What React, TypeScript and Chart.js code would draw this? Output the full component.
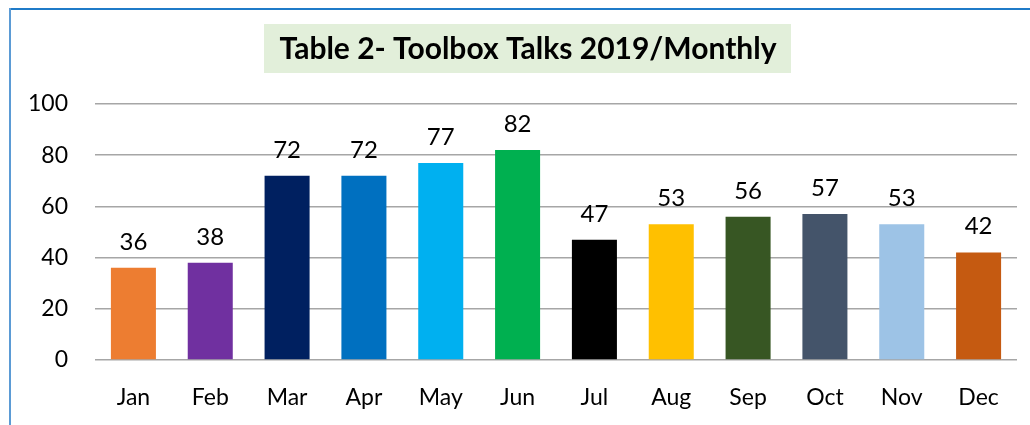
import React, { useEffect, useRef } from "react";
import { Chart, registerables } from "chart.js";

Chart.register(...registerables);

const months = ["Jan", "Feb", "Mar", "Apr", "May", "Jun", "Jul", "Aug", "Sep", "Oct", "Nov", "Dec"];
const talks = [36, 38, 72, 72, 77, 82, 47, 53, 56, 57, 53, 42];
const barColors = [
  "#ED7D31", "#7030A0", "#002060", "#0070C0", "#00B0F0", "#00B050",
  "#000000", "#FFC000", "#375623", "#44546A", "#9DC3E6", "#C55A11",
];
const titleText = "Table 2- Toolbox Talks 2019/Monthly";
const yMin = 0;
const yMax = 100;
const yStep = 20;

const FONT = "Lato";

const titlePlugin = {
  id: "titleBox",
  afterDraw(chart: any) {
    const ctx = chart.ctx;
    ctx.save();
    ctx.fillStyle = "#E2EFDA";
    ctx.fillRect(264, 24, 527, 49);
    ctx.font = `bold 30px ${FONT}`;
    ctx.fillStyle = "#000000";
    ctx.textAlign = "center";
    ctx.textBaseline = "middle";
    ctx.fillText(titleText, 528, 49);
    ctx.restore();
  },
};

const valueLabels = {
  id: "valueLabels",
  afterDatasetsDraw(chart: any) {
    const ctx = chart.ctx;
    const meta = chart.getDatasetMeta(0);
    ctx.save();
    ctx.font = `24px ${FONT}`;
    ctx.fillStyle = "#000000";
    ctx.textAlign = "center";
    ctx.textBaseline = "alphabetic";
    meta.data.forEach((bar: any, i: number) => {
      ctx.fillText(String(talks[i]), bar.x, bar.y - 18);
    });
    ctx.restore();
  },
};

export default function App() {
  const ref = useRef<HTMLCanvasElement>(null);
  useEffect(() => {
    if (!ref.current) return;
    const chart = new Chart(ref.current, {
      type: "bar",
      data: {
        labels: months,
        datasets: [
          {
            data: talks,
            backgroundColor: barColors,
            borderWidth: 0,
            categoryPercentage: 1,
            barPercentage: 0.586,
          },
        ],
      },
      options: {
        animation: false,
        responsive: false,
        layout: { padding: { top: 104, right: 13, left: 0, bottom: 0 } },
        plugins: {
          legend: { display: false },
          title: { display: false },
          tooltip: { enabled: false },
        },
        scales: {
          x: {
            grid: { display: false, drawTicks: false },
            border: { display: false },
            ticks: { color: "#000000", font: { family: FONT, size: 23 }, padding: 24 },
            afterFit: (s: any) => { s.height = 65; },
          },
          y: {
            min: yMin,
            max: yMax,
            ticks: { stepSize: yStep, color: "#000000", font: { family: FONT, size: 23 }, padding: 27 },
            grid: { color: "#A6A6A6", lineWidth: 1.5, drawTicks: false },
            border: { display: false },
            afterFit: (s: any) => { s.width = 95; },
          },
        },
      },
      plugins: [titlePlugin, valueLabels],
    });
    return () => chart.destroy();
  }, []);

  return (
    <div style={{ position: "absolute", left: 0, top: 0, width: 1030, height: 425, background: "#fff" }}>
      <canvas ref={ref} width={1030} height={425} />
      <div style={{ position: "absolute", left: 9, top: 8, right: 0, height: 0, borderTop: "2px solid #1F7BC8" }} />
      <div style={{ position: "absolute", left: 9, top: 8, bottom: 0, width: 0, borderLeft: "2px solid #5B9BD5" }} />
    </div>
  );
}
